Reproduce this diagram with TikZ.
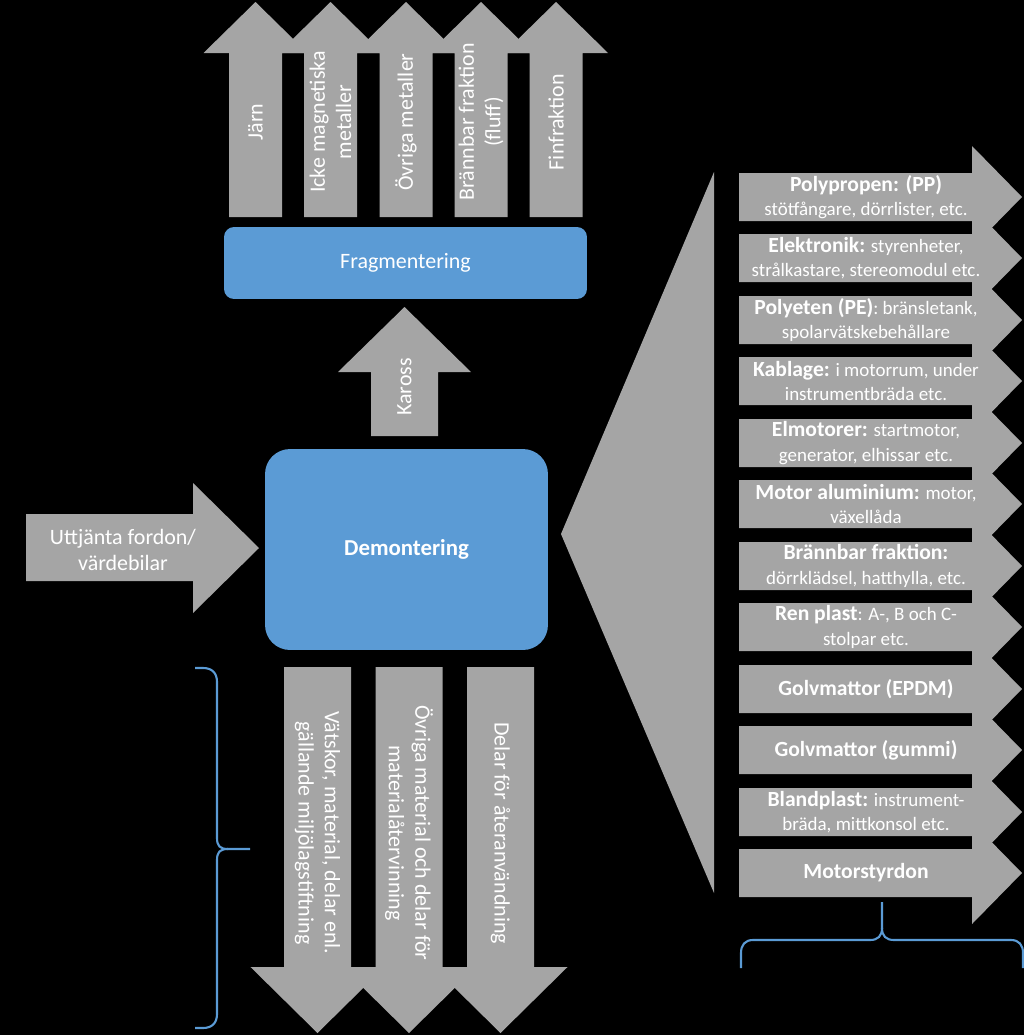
\documentclass[tikz,border=0pt]{standalone}
\usepackage{fontspec}
\setmainfont{Carlito}
\definecolor{arrowgray}{HTML}{A5A5A5}
\definecolor{stageblue}{HTML}{5B9BD5}
\newcommand{\rubrik}[1]{{\bfseries\fontsize{12.3}{14}\selectfont #1}}

\begin{document}
\begin{tikzpicture}
    [
    x=0.02cm, y=-0.02cm,
    blockarrow/.style={fill=arrowgray},
    stage/.style={rectangle,fill=stageblue,text=white,inner sep=0pt,font=\fontsize{12.5}{15}\selectfont},
    flow/.style={text=white,align=center,inner sep=0pt,font=\fontsize{12.5}{15}\selectfont},
    part/.style={text=white,align=center,inner sep=0pt,font=\fontsize{10.8}{14}\selectfont},
    klammer/.style={draw=stageblue,line width=1.2pt}
    ]
    \useasboundingbox (0,0) rectangle (1024,1035);
    \fill[black] (0,0) rectangle (1024,1035);

    % block arrows
    \fill[blockarrow] (26,514) rectangle (193,581) (193,483) -- (259,548) -- (193,613) -- cycle;
    \fill[blockarrow] (371,436) rectangle (438,372) (338,372) -- (404.5,307) -- (471,372) -- cycle;
    \fill[blockarrow] (229,217) rectangle (282,53) (203.5,53) -- (255.5,2) -- (307.5,53) -- cycle;
    \fill[blockarrow] (304,217) rectangle (357,53) (278.5,53) -- (330.5,2) -- (382.5,53) -- cycle;
    \fill[blockarrow] (379.5,217) rectangle (432.5,53) (354,53) -- (406,2) -- (458,53) -- cycle;
    \fill[blockarrow] (454.5,217) rectangle (507.5,53) (429,53) -- (481,2) -- (533,53) -- cycle;
    \fill[blockarrow] (529.5,217) rectangle (582.5,53) (504,53) -- (556,2) -- (608,53) -- cycle;
    \fill[blockarrow] (284,667) rectangle (351,967) (250.5,967) -- (317.5,1033) -- (384.5,967) -- cycle;
    \fill[blockarrow] (375.5,667) rectangle (442.5,967) (342,967) -- (409,1033) -- (476,967) -- cycle;
    \fill[blockarrow] (467,667) rectangle (534,967) (433.5,967) -- (500.5,1033) -- (567.5,967) -- cycle;
    \fill[blockarrow] (561,534) -- (714,172) -- (714,893) -- cycle;
    \fill[blockarrow] (739,173) rectangle (972,221) (972,146) -- (1022,197) -- (972,248) -- cycle;
    \fill[blockarrow] (739,234) rectangle (972,282) (972,207) -- (1022,258) -- (972,309) -- cycle;
    \fill[blockarrow] (739,296) rectangle (972,344) (972,269) -- (1022,320) -- (972,371) -- cycle;
    \fill[blockarrow] (739,357) rectangle (972,405) (972,330) -- (1022,381) -- (972,432) -- cycle;
    \fill[blockarrow] (739,419) rectangle (972,467) (972,392) -- (1022,443) -- (972,494) -- cycle;
    \fill[blockarrow] (739,480) rectangle (972,528) (972,453) -- (1022,504) -- (972,555) -- cycle;
    \fill[blockarrow] (739,542) rectangle (972,590) (972,515) -- (1022,566) -- (972,617) -- cycle;
    \fill[blockarrow] (739,603) rectangle (972,651) (972,576) -- (1022,627) -- (972,678) -- cycle;
    \fill[blockarrow] (739,665) rectangle (972,713) (972,638) -- (1022,689) -- (972,740) -- cycle;
    \fill[blockarrow] (739,726) rectangle (972,774) (972,699) -- (1022,750) -- (972,801) -- cycle;
    \fill[blockarrow] (739,788) rectangle (972,836) (972,761) -- (1022,812) -- (972,863) -- cycle;
    \fill[blockarrow] (739,849) rectangle (972,897) (972,822) -- (1022,873) -- (972,924) -- cycle;

    % stages
    \node (frag) at (405.5,263) [stage,minimum width=7.26cm,minimum height=1.44cm,rounded corners=0.2cm] {Fragmentering};
    \node (demo) at (406.5,549.5) [stage,minimum width=5.66cm,minimum height=4.02cm,rounded corners=0.5cm,font=\bfseries\fontsize{13}{15}\selectfont] {Demontering};

    % arrow texts
    \node (fordon) at (123,550) [flow] {Uttjänta fordon/\\värdebilar};
    \node (kaross) at (404.5,387) [flow,rotate=90] {Kaross};
    \node (jarn) at (255.5,122) [flow,rotate=90] {Järn};
    \node (icke) at (330.5,122) [flow,rotate=90] {Icke magnetiska\\metaller};
    \node (ovriga) at (406,122) [flow,rotate=90] {Övriga metaller};
    \node (fluff) at (481,122) [flow,rotate=90] {Brännbar fraktion\\(fluff)};
    \node (fin) at (556,122) [flow,rotate=90] {Finfraktion};
    \node (vatskor) at (317.5,833) [flow,rotate=-90] {Vätskor, material, delar enl.\\gällande miljölagstiftning};
    \node (matatv) at (409,833) [flow,rotate=-90] {Övriga material och delar för\\materialåtervinning};
    \node (ateranv) at (500.5,833) [flow,rotate=-90] {Delar för återanvändning};

    % parts list
    \node (pp) at (866,197) [part] {\rubrik{Polypropen: (PP)}\\stötfångare, dörrlister, etc.};
    \node (elektronik) at (866,258) [part] {\rubrik{Elektronik:} styrenheter,\\strålkastare, stereomodul etc.};
    \node (pe) at (866,320) [part] {\rubrik{Polyeten (PE)}: bränsletank,\\spolarvätskebehållare};
    \node (kablage) at (866,381) [part] {\rubrik{Kablage:} i motorrum, under\\instrumentbräda etc.};
    \node (elmotorer) at (866,443) [part] {\rubrik{Elmotorer:} startmotor,\\generator, elhissar etc.};
    \node (alu) at (866,504) [part] {\rubrik{Motor aluminium:} motor,\\växellåda};
    \node (brannbar) at (866,566) [part] {\rubrik{Brännbar fraktion:}\\dörrklädsel, hatthylla, etc.};
    \node (renplast) at (866,627) [part] {\rubrik{Ren plast}: A-, B och C-\\stolpar etc.};
    \node (epdm) at (866,689) [part] {\rubrik{Golvmattor (EPDM)}};
    \node (gummi) at (866,750) [part] {\rubrik{Golvmattor (gummi)}};
    \node (blandplast) at (866,812) [part] {\rubrik{Blandplast:} instrument-\\bräda, mittkonsol etc.};
    \node (styrdon) at (866,873) [part] {\rubrik{Motorstyrdon}};

    % braces
    \coordinate (b1) at (195,668);
    \coordinate (b2) at (195,1028);
    \coordinate (b3) at (741,968);
    \coordinate (b4) at (1023,968);
    \draw[klammer] (b1) -- (203,668) .. controls (212,668) and (217,673) .. (217,682) -- (217,838)
        .. controls (217,846) and (220,849) .. (228,849) -- (250,849);
    \draw[klammer] (b2) -- (203,1028) .. controls (212,1028) and (217,1023) .. (217,1014) -- (217,860)
        .. controls (217,852) and (220,849) .. (228,849);
    \draw[klammer] (b3) -- (741,953) .. controls (741,945) and (745,940) .. (753,940) -- (870,940)
        .. controls (878,940) and (882,936) .. (882,928) -- (882,902);
    \draw[klammer] (b4) -- (1023,953) .. controls (1023,945) and (1019,940) .. (1011,940) -- (894,940)
        .. controls (886,940) and (882,936) .. (882,928);
  \end{tikzpicture}
\end{document}
